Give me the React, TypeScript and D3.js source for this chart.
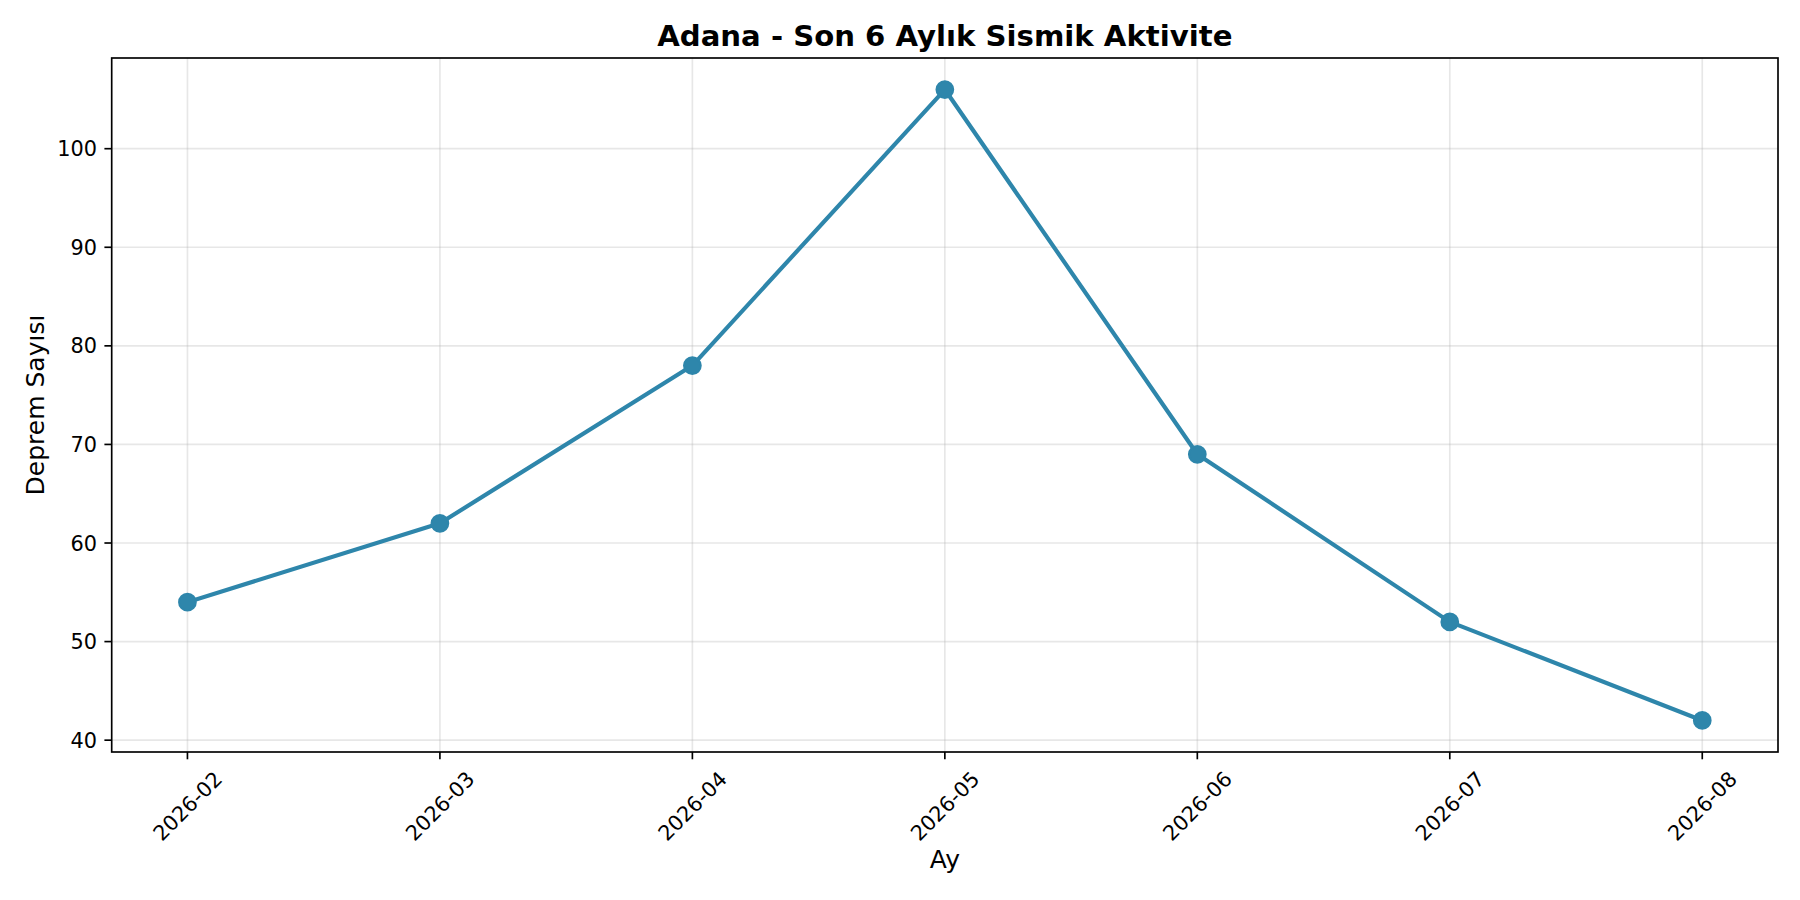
import { useEffect, useRef } from "react";
import * as d3 from "d3";

const months = ["2026-02", "2026-03", "2026-04", "2026-05", "2026-06", "2026-07", "2026-08"];
const counts = [54, 62, 78, 106, 69, 52, 42];
const yTicks = [40, 50, 60, 70, 80, 90, 100];

const W = 1800;
const H = 900;
const FONT = "DejaVu Sans, sans-serif";

export default function App() {
  const svgRef = useRef<SVGSVGElement>(null);

  useEffect(() => {
    if (!svgRef.current) return;
    const svg = d3.select(svgRef.current);
    svg.selectAll("*").remove();

    const box = { left: 111.7, right: 1778, top: 58, bottom: 752 };

    // matplotlib-style 5% margins
    const n = months.length - 1;
    const x = d3
      .scaleLinear()
      .domain([-n * 0.05, n * 1.05])
      .range([box.left, box.right]);
    const yMin = d3.min(counts)!;
    const yMax = d3.max(counts)!;
    const yPad = (yMax - yMin) * 0.05;
    const y = d3
      .scaleLinear()
      .domain([yMin - yPad, yMax + yPad])
      .range([box.bottom, box.top]);

    svg.append("rect").attr("width", W).attr("height", H).attr("fill", "#fff");

    // Grid
    const grid = svg.append("g").attr("stroke", "#b0b0b0").attr("stroke-opacity", 0.3).attr("stroke-width", 1.67);
    months.forEach((_m, i) => {
      grid.append("line").attr("x1", x(i)).attr("x2", x(i)).attr("y1", box.top).attr("y2", box.bottom);
    });
    yTicks.forEach((t) => {
      grid.append("line").attr("x1", box.left).attr("x2", box.right).attr("y1", y(t)).attr("y2", y(t));
    });

    // Line + markers
    const line = d3
      .line<number>()
      .x((_d, i) => x(i))
      .y((d) => y(d));
    svg
      .append("path")
      .datum(counts)
      .attr("d", line)
      .attr("fill", "none")
      .attr("stroke", "#2E86AB")
      .attr("stroke-width", 4.17)
      .attr("stroke-linejoin", "round")
      .attr("stroke-linecap", "square");
    svg
      .append("g")
      .selectAll("circle")
      .data(counts)
      .join("circle")
      .attr("cx", (_d, i) => x(i))
      .attr("cy", (d) => y(d))
      .attr("r", 8.33)
      .attr("fill", "#2E86AB")
      .attr("stroke", "#2E86AB")
      .attr("stroke-width", 2.08);

    // Spines
    svg
      .append("rect")
      .attr("x", box.left)
      .attr("y", box.top)
      .attr("width", box.right - box.left)
      .attr("height", box.bottom - box.top)
      .attr("fill", "none")
      .attr("stroke", "#000")
      .attr("stroke-width", 1.67);

    const tickLen = 7.3;
    const fs = 20.83;

    // Y ticks
    const yg = svg.append("g").attr("font-family", FONT).attr("font-size", fs);
    yTicks.forEach((t) => {
      yg.append("line")
        .attr("x1", box.left - tickLen)
        .attr("x2", box.left)
        .attr("y1", y(t))
        .attr("y2", y(t))
        .attr("stroke", "#000")
        .attr("stroke-width", 1.67);
      yg.append("text")
        .attr("x", box.left - tickLen - 7.3)
        .attr("y", y(t))
        .attr("dy", "0.36em")
        .attr("text-anchor", "end")
        .text(t);
    });

    // X ticks, rotated 45 with centred bbox
    const xg = svg.append("g").attr("font-family", FONT).attr("font-size", fs);
    months.forEach((m, i) => {
      xg.append("line")
        .attr("x1", x(i))
        .attr("x2", x(i))
        .attr("y1", box.bottom)
        .attr("y2", box.bottom + tickLen)
        .attr("stroke", "#000")
        .attr("stroke-width", 1.67);
      const t = xg.append("text").attr("text-anchor", "middle").attr("dy", "0.36em").text(m);
      const w = (t.node() as SVGTextElement).getComputedTextLength();
      const h = fs * 1.164;
      const bw = (w + h) * Math.SQRT1_2;
      const cy = box.bottom + tickLen + 7.3 + bw / 2;
      t.attr("x", x(i)).attr("y", cy).attr("transform", `rotate(-45,${x(i)},${cy})`);
    });

    // Labels
    svg
      .append("text")
      .attr("x", (box.left + box.right) / 2)
      .attr("y", 868)
      .attr("text-anchor", "middle")
      .attr("font-family", FONT)
      .attr("font-size", 25)
      .text("Ay");
    svg
      .append("text")
      .attr("transform", `translate(44,${(box.top + box.bottom) / 2}) rotate(-90)`)
      .attr("text-anchor", "middle")
      .attr("font-family", FONT)
      .attr("font-size", 25)
      .text("Deprem Sayısı");
    svg
      .append("text")
      .attr("x", (box.left + box.right) / 2)
      .attr("y", box.top - 12.5)
      .attr("text-anchor", "middle")
      .attr("font-family", FONT)
      .attr("font-size", 29.17)
      .attr("font-weight", "bold")
      .text("Adana - Son 6 Aylık Sismik Aktivite");
  }, []);

  return (
    <div style={{ position: "absolute", left: 0, top: 0 }}>
      <svg ref={svgRef} width={W} height={H} style={{ display: "block" }} />
    </div>
  );
}
